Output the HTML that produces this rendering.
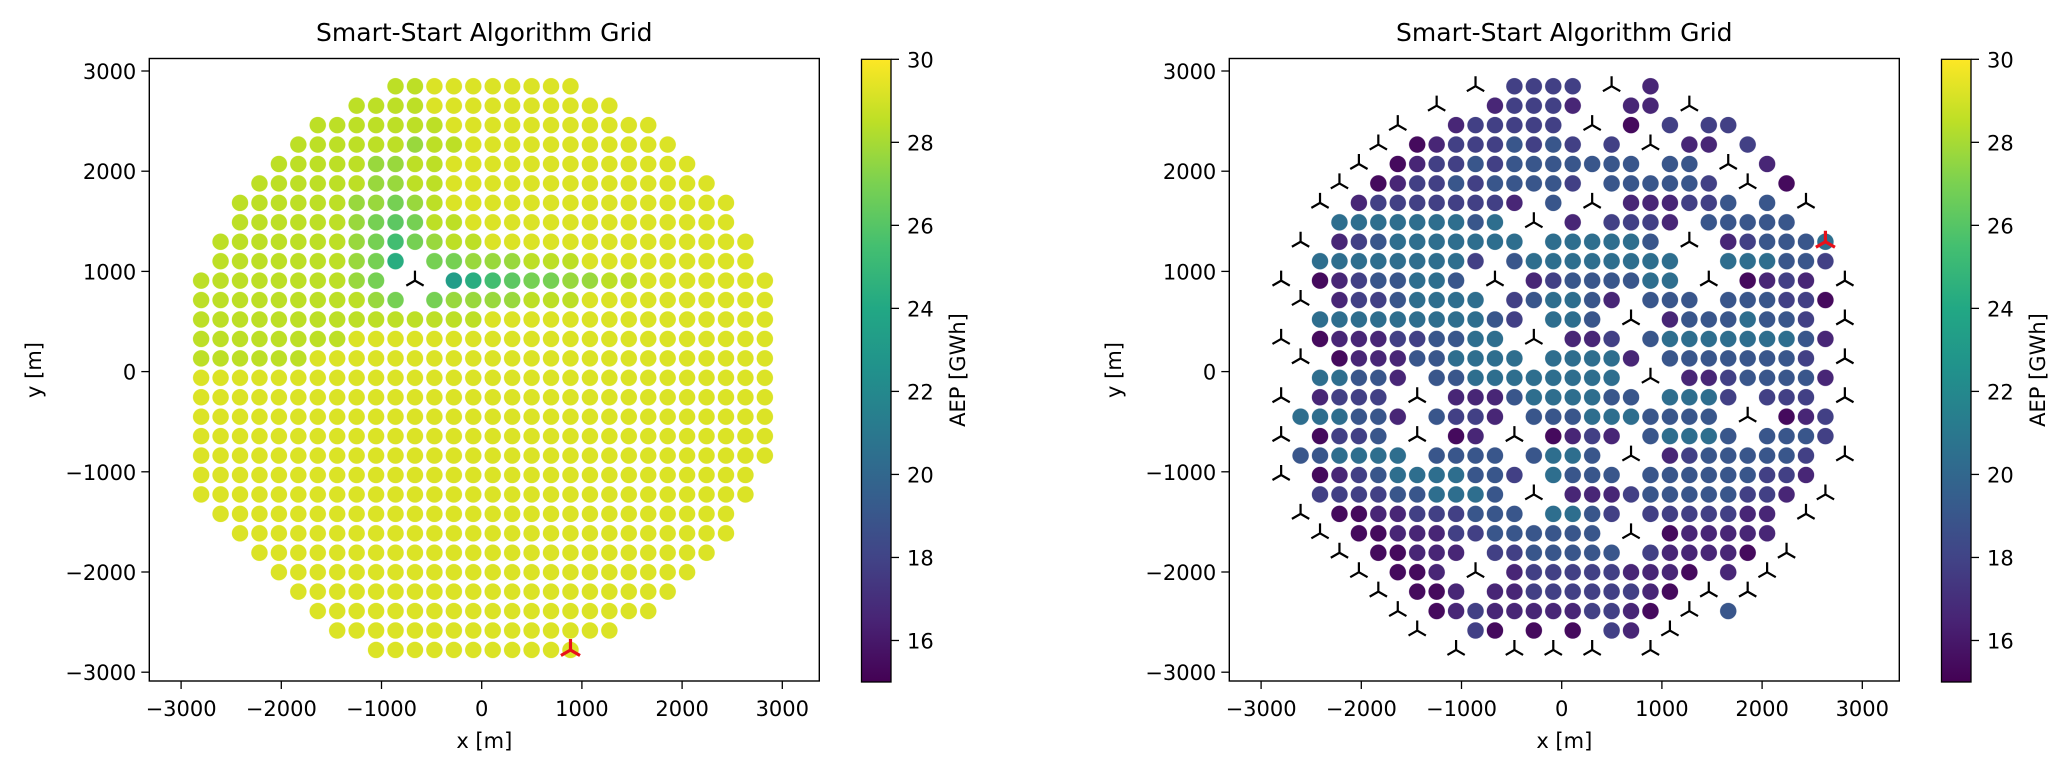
<!DOCTYPE html>
<html><head><meta charset="utf-8"><style>
html,body{margin:0;padding:0;background:#fff;}
svg{display:block;font-family:"DejaVu Sans","Liberation Sans",sans-serif;}
</style></head><body>
<svg id="fig" width="2067" height="774" viewBox="0 0 2067 774" xmlns="http://www.w3.org/2000/svg">
<defs>
<linearGradient id="vir" x1="0" y1="1" x2="0" y2="0">
<stop offset="0" stop-color="#440154"/><stop offset="0.1" stop-color="#482475"/><stop offset="0.2" stop-color="#414487"/><stop offset="0.3" stop-color="#355f8d"/><stop offset="0.4" stop-color="#2a788e"/><stop offset="0.5" stop-color="#21918c"/><stop offset="0.6" stop-color="#22a884"/><stop offset="0.7" stop-color="#44bf70"/><stop offset="0.8" stop-color="#7ad151"/><stop offset="0.9" stop-color="#bddf26"/><stop offset="1" stop-color="#fde725"/>
</linearGradient>
</defs>
</svg>
<script>
// ---- data ----
const gridX0 = -2800, gridY0 = 2848, gridStep = 194;
const xTicks = [-3000,-2000,-1000,0,1000,2000,3000];
const yTicks = [-3000,-2000,-1000,0,1000,2000,3000];
const cbTicks = [16,18,20,22,24,26,28,30];
const cbMin = 15, cbMax = 30;
const leftLevelChars = ['2','3','4','5','6','7','8','9'];
const leftLevelValues = [23.3,24.3,25.4,26.2,26.9,27.7,28.5,29.2];
const rightLevelChars = ['1','2','3','4','5'];
const rightLevelValues = [15.4,16.6,17.8,19.0,20.4];
const leftRedValue = 29.2;
const rightRedValue = 20.4;
const leftRows = [
"          8899999999          ",
"        88889999999999        ",
"      888888899999999999      ",
"     88888878899999999999     ",
"    8888877889999999999999    ",
"   888888778899999999999999   ",
"  88888877678999999999999999  ",
"  88888876568899999999999999  ",
" 8888888764678899999999999999 ",
" 8888888763.66777888999999999 ",
"8888888876.T.23456677889999999",
"88888888876.677778889999999999",
"888888888888888999999999999999",
"888888889999999999999999999999",
"888888999999999999999999999999",
"999999999999999999999999999999",
"999999999999999999999999999999",
"999999999999999999999999999999",
"999999999999999999999999999999",
"999999999999999999999999999999",
"99999999999999999999999999999 ",
"99999999999999999999999999999 ",
" 999999999999999999999999999  ",
"  99999999999999999999999999  ",
"   999999999999999999999999   ",
"    9999999999999999999999    ",
"     99999999999999999999     ",
"      999999999999999999      ",
"       999999999999999        ",
"         9999999999R          "
];
const rightRows = [
"          T.3333.T.2          ",
"        T..23332..22.T        ",
"      T..233333.T.1.3.33      ",
"     T.123334343.3.T.22.3     ",
"    T.1233434444444.44.T.2    ",
"   T.12334344443.444443.T.1   ",
"  T.233333332.4.T.222334.4.T  ",
"  .555555545.T.2.3332.44444.  ",
" T.2345555555.555554.T.23444R ",
" .555555553.455555555..555443 ",
"T.12344554.T.23444455.T.1232.T",
".T.23345555.345542.444.444331.",
"..55555555543.554.T.24445443.T",
"T.1222334455.T.223.4555555542.",
".T.1222445555.55552.44444443.T",
"..55442.4455555555.T.22344442.",
"T.2333.T.2224555544.5553.333.T",
".555442.4332.4445554444.T.123.",
"T.1334.T.12.T.1232.45554.4443.",
".445555.4444.4554.T.23444443.T",
"T.12345555443.5444.444444332. ",
"..3333445554.T.222344444332.T ",
" T.1122333444.5543.3333322.T  ",
"  T.1122233444444.T.122222..  ",
"   T.11222.3344444.322221.T   ",
"    T.112.T.2333332221.2.T    ",
"     T.112.2233333321.T.T     ",
"      T.123222223321.T.4      ",
"       T..31.1.1.32.T         ",
"         T..T.T.T..T          "
];

// ---- helpers ----
const NS = "http://www.w3.org/2000/svg";
const svg = document.getElementById('fig');
const vstops = [[68,1,84],[72,36,117],[65,68,135],[53,95,141],[42,120,142],[33,145,140],[34,168,132],[68,191,112],[122,209,81],[189,223,38],[253,231,37]];
function viridis(v){
  let t = (v-cbMin)/(cbMax-cbMin); t = Math.max(0,Math.min(1,t));
  const f = t*10, i = Math.min(9,Math.floor(f)), u = f-i;
  const a = vstops[i], b = vstops[i+1];
  return 'rgb('+[0,1,2].map(j=>Math.round(a[j]+(b[j]-a[j])*u)).join(',')+')';
}
function mk(tag, attrs, parent){
  const e = document.createElementNS(NS, tag);
  for (const k in attrs) e.setAttribute(k, attrs[k]);
  (parent||svg).appendChild(e);
  return e;
}
const SCALE = 0.1002;
function xScale(panelOffset, x){ return 481.7 + panelOffset + x*SCALE; }
function yScale(y){ return 371.6 - y*SCALE; }
function cbY(v){ return 682 - (v-cbMin)/(cbMax-cbMin)*622.7; }

function triPath(cx, cy, L){
  return 'M'+cx+','+cy+'L'+cx+','+(cy-L)+'M'+cx+','+cy+'L'+(cx-0.866*L)+','+(cy+0.5*L)+'M'+cx+','+cy+'L'+(cx+0.866*L)+','+(cy+0.5*L);
}

function drawPanel(off, rows, chars, values, redValue, tag){
  const g = mk('g', {});
  
  
  const ax0 = 149.3+off, ax1 = 819.3+off, ay0 = 58.5, ay1 = 681;
  rows.forEach((row, i) => {
    for (let k = 0; k < row.length; k++){
      const c = row[k];
      if (c === ' ' || c === '.') continue;
      const px = xScale(off, gridX0 + gridStep*k);
      const py = yScale(gridY0 - gridStep*i);
      if (c === 'T'){
        const t = mk('path', {d: triPath(px, py, 10), stroke:'#000', 'stroke-width':2.2, fill:'none'}, g);
        
        
        continue;
      }
      let v;
      if (c === 'R') v = redValue; else v = values[chars.indexOf(c)];
      const d = mk('circle', {cx:px, cy:py, r:8.4, fill:viridis(v), stroke:'rgba(255,255,255,0.6)', 'stroke-width':0.6}, g);
      
      
      if (c === 'R'){
        const r = mk('path', {d: triPath(px, py, 11), stroke:'#e8101a', 'stroke-width':3.2, fill:'none'}, g);
        
        
      }
    }
  });
  const fr = mk('rect', {x:ax0, y:ay0, width:ax1-ax0, height:ay1-ay0, fill:'none', stroke:'#000', 'stroke-width':1.4}, g);
  
  
  xTicks.forEach(t => {
    const x = xScale(off, t);
    mk('line', {x1:x, x2:x, y1:ay1, y2:ay1+8, stroke:'#000', 'stroke-width':1.3}, g);
    const tx = mk('text', {x:x, y:716, 'text-anchor':'middle', 'font-size':21, fill:'#000'}, g);
    tx.textContent = (t<0?'\u2212':'')+Math.abs(t);
    
    
  });
  yTicks.forEach(t => {
    const y = yScale(t);
    mk('line', {x1:ax0-8, x2:ax0, y1:y, y2:y, stroke:'#000', 'stroke-width':1.3}, g);
    const ty = mk('text', {x:ax0-13, y:y+8, 'text-anchor':'end', 'font-size':21, fill:'#000'}, g);
    ty.textContent = (t<0?'\u2212':'')+Math.abs(t);
    
    
  });
  const xl = mk('text', {x:(ax0+ax1)/2, y:748, 'text-anchor':'middle', 'font-size':21}, g);
  xl.textContent = 'x [m]';
  
  
  const yl = mk('text', {x:0, y:0, 'text-anchor':'middle', 'font-size':21, transform:'translate('+(41+off)+',370) rotate(-90)'}, g);
  yl.textContent = 'y [m]';
  
  
  const ti = mk('text', {x:(ax0+ax1)/2, y:41, 'text-anchor':'middle', 'font-size':25}, g);
  ti.textContent = 'Smart-Start Algorithm Grid';
  
  
  const cbx = 861.5+off, cbw = 29.5;
  const cb = mk('rect', {x:cbx, y:cbY(cbMax), width:cbw, height:cbY(cbMin)-cbY(cbMax), fill:'url(#vir)', stroke:'#000', 'stroke-width':1.3}, g);
  
  
  cbTicks.forEach(t => {
    const y = cbY(t);
    mk('line', {x1:cbx+cbw, x2:cbx+cbw+8, y1:y, y2:y, stroke:'#000', 'stroke-width':1.3}, g);
    const ct = mk('text', {x:cbx+cbw+16, y:y+8, 'font-size':21}, g);
    ct.textContent = String(t);
    
    
  });
  const cl = mk('text', {x:0, y:0, 'text-anchor':'middle', 'font-size':21, transform:'translate('+(965+off)+',370) rotate(-90)'}, g);
  cl.textContent = 'AEP [GWh]';
  
  
}
drawPanel(0, leftRows, leftLevelChars, leftLevelValues, leftRedValue, 'left');
drawPanel(1080, rightRows, rightLevelChars, rightLevelValues, rightRedValue, 'right');
</script>
</body></html>
